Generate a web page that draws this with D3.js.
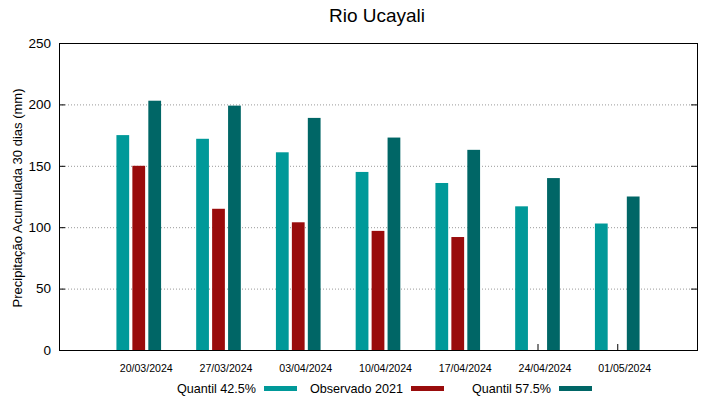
<!DOCTYPE html>
<html>
<head>
<meta charset="utf-8">
<script src="https://cdn.jsdelivr.net/npm/d3@7"></script>
<style>
  body { margin: 0; background: #fff; }
  svg { font-family: "Liberation Sans", Arial, sans-serif; }
</style>
</head>
<body>
<figure id="bar-chart" style="margin:0"></figure>
<script>
const dates = ['20/03/2024', '27/03/2024', '03/04/2024', '10/04/2024', '17/04/2024', '24/04/2024', '01/05/2024'];
const q425 = [175, 172, 161, 145, 136, 117, 103];
const obs2021 = [150, 115, 104, 97, 92, null, null];
const q575 = [203, 199, 189, 173, 163, 140, 125];
const yTicks = [0, 50, 100, 150, 200, 250];

const series = [
  { name: 'Quantil 42.5%', values: q425, color: '#009999', offset: -0.2 },
  { name: 'Observado 2021', values: obs2021, color: '#990c0c', offset: 0 },
  { name: 'Quantil 57.5%', values: q575, color: '#006666', offset: 0.2 }
];

const width = 719, height = 399;
const plot = { left: 59, right: 697, top: 43, bottom: 350 };

const svg = d3.select('figure#bar-chart')
  .append('svg')
  .attr('width', width)
  .attr('height', height);

// x in index units, one unit of padding each side (gnuplot style)
const xScale = d3.scaleLinear()
  .domain([-1, dates.length])
  .range([plot.left, plot.right]);

const yScale = d3.scaleLinear()
  .domain([0, 250])
  .range([plot.bottom, plot.top]);

// grid lines
svg.append('g')
  .selectAll('line')
  .data(yTicks.filter(d => d > 0 && d < 250))
  .join('line')
  .attr('x1', plot.left).attr('x2', plot.right)
  .attr('y1', d => yScale(d) + 0.5).attr('y2', d => yScale(d) + 0.5)
  .attr('stroke', '#999')
  .attr('stroke-width', 1)
  .attr('stroke-dasharray', '1,2');

// y axis (left) with inward ticks
const yAxis = svg.append('g')
  .attr('transform', 'translate(' + plot.left + ',0)')
  .call(d3.axisLeft(yScale).tickValues(yTicks).tickSize(-6).tickPadding(8));
yAxis.select('.domain').remove();
yAxis.selectAll('text').attr('font-size', 13.5).attr('fill', '#000')
  .attr('font-family', '"Liberation Sans", Arial, sans-serif');
yAxis.selectAll('line').attr('stroke', '#000');

// mirrored ticks on the right
const yRight = svg.append('g')
  .attr('transform', 'translate(' + plot.right + ',0)')
  .call(d3.axisRight(yScale).tickValues(yTicks).tickSize(-6).tickFormat(''));
yRight.select('.domain').remove();
yRight.selectAll('line').attr('stroke', '#000');

// x axis, labels sit a little right of the ticks
const xAxis = svg.append('g')
  .attr('transform', 'translate(0,' + plot.bottom + ')')
  .call(d3.axisBottom(xScale).tickValues(d3.range(dates.length))
    .tickFormat(i => dates[i]).tickSize(-6).tickPadding(14));
xAxis.select('.domain').remove();
xAxis.selectAll('text').attr('font-size', 10.6).attr('fill', '#000').attr('dx', 7)
  .attr('font-family', '"Liberation Sans", Arial, sans-serif');
xAxis.selectAll('line').attr('stroke', '#000');

// bars (drawn over the ticks)
const barW = xScale(0.16) - xScale(0);
series.forEach(s => {
  svg.append('g')
    .selectAll('rect')
    .data(s.values.map((v, i) => ({ v, i })).filter(d => d.v != null))
    .join('rect')
    .attr('x', d => xScale(d.i + s.offset) - barW / 2)
    .attr('y', d => yScale(d.v))
    .attr('width', barW)
    .attr('height', d => yScale(0) - yScale(d.v))
    .attr('fill', s.color);
});

// frame
svg.append('rect')
  .attr('x', plot.left + 0.5).attr('y', plot.top + 0.5)
  .attr('width', plot.right - plot.left).attr('height', plot.bottom - plot.top)
  .attr('fill', 'none')
  .attr('stroke', '#000')
  .attr('stroke-width', 1);

// title
svg.append('text')
  .attr('x', 377).attr('y', 22)
  .attr('text-anchor', 'middle')
  .attr('font-size', 19)
  .text('Rio Ucayali');

// y label
svg.append('text')
  .attr('transform', 'translate(22,198) rotate(-90)')
  .attr('text-anchor', 'middle')
  .attr('font-size', 13)
  .text('Precipitação Acumulada 30 dias (mm)');

// legend
const legendX = [256, 403, 551];
const legend = svg.append('g');
series.forEach((s, k) => {
  legend.append('text')
    .attr('x', legendX[k]).attr('y', 393)
    .attr('text-anchor', 'end')
    .attr('font-size', 12.6)
    .text(s.name);
  legend.append('rect')
    .attr('x', legendX[k] + 8).attr('y', 386)
    .attr('width', 33).attr('height', 5)
    .attr('fill', s.color);
});
</script>
</body>
</html>
